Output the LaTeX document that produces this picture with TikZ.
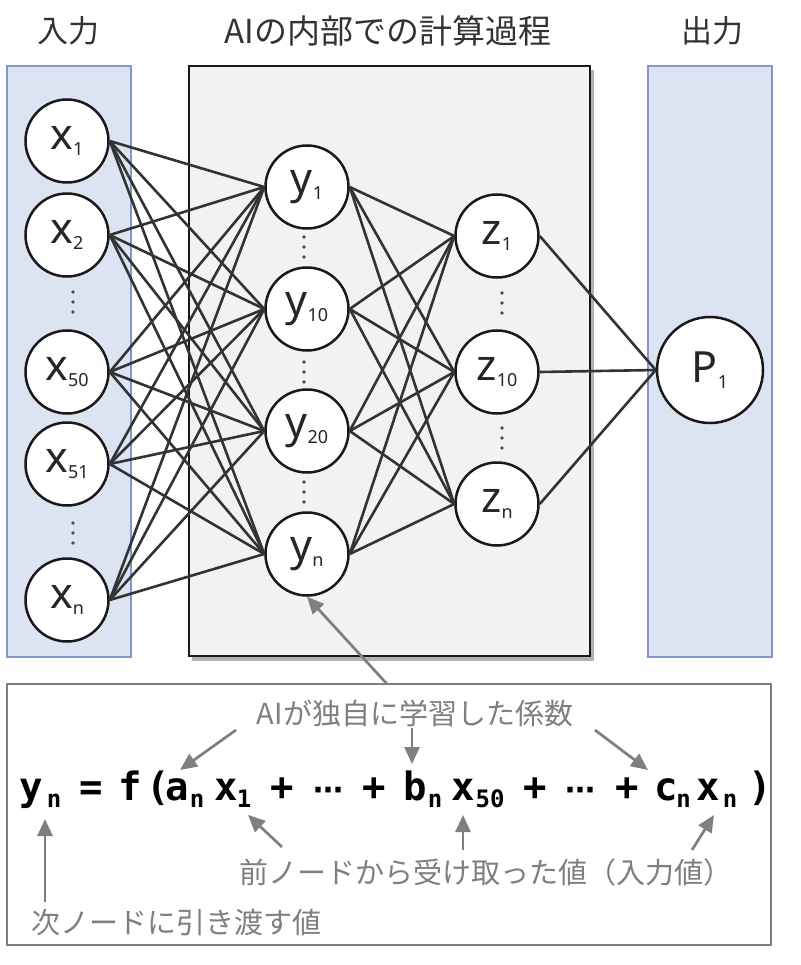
\documentclass[tikz,border=0pt]{standalone}
\usepackage{fontspec}
\setmainfont{Noto Sans CJK JP}
\newfontfamily\nodefont{Noto Sans}
\newfontfamily\formfont{DejaVu Sans Mono}
\newfontfamily\dvfont{DejaVu Sans}
\usetikzlibrary{arrows.meta}
\definecolor{boxblue}{HTML}{DCE3F2}
\definecolor{boxedge}{HTML}{7F98C8}
\definecolor{midfill}{HTML}{F2F2F2}
\definecolor{linkcol}{HTML}{333333}
\definecolor{graytxt}{HTML}{7F7F7F}
\newcommand\nsub[1]{\raisebox{-6pt}{\fontsize{18}{18}\selectfont #1}}
\tikzset{
  neuron/.style={circle, draw=black!90, line width=2.5pt, fill=white, minimum size=83pt, inner sep=0pt,
    font=\nodefont\fontsize{43}{43}\selectfont, text=black!85},
  link/.style={draw=linkcol, line width=2.6pt},
  garrow/.style={draw=graytxt, line width=2.7pt, -{Triangle[length=17pt,width=15pt]}},
  jplabel/.style={font=\fontsize{29}{29}\selectfont, text=graytxt, inner sep=0pt},
  toplabel/.style={font=\fontsize{31}{31}\selectfont, text=black!80, inner sep=0pt},
  fbig/.style={font=\formfont\bfseries\fontsize{39}{39}\selectfont, anchor=base, inner sep=0pt},
  fsub/.style={font=\formfont\bfseries\fontsize{24}{24}\selectfont, anchor=base, inner sep=0pt},
  bluebox/.style={fill=boxblue, draw=boxedge, line width=2.7pt},
}
\begin{document}
\begin{tikzpicture}[x=1pt,y=-1pt]
\useasboundingbox (0,0) rectangle (800,965);
\fill[white] (0,0) rectangle (800,965);

% top labels
\node[toplabel] (lin) at (68,31) {入力};
\node[toplabel,font=\fontsize{33}{33}\selectfont] (lmid) at (388,31) {AIの内部での計算過程};
\node[toplabel] (lout) at (712,31) {出力};

% boxes
\draw[bluebox] (7,66) rectangle (131,657);
\fill[black!30] (192,70) rectangle (594,661);
\draw[fill=midfill, draw=black!90, line width=2.6pt] (189,66) rectangle (590,656);
\draw[bluebox] (648,66) rectangle (772,657);

% neurons
\node[neuron] (x1)  at (67,141) {x\nsub{1}};
\node[neuron] (x2)  at (67,235) {x\nsub{2}};
\node[neuron] (x50) at (67,372) {x\nsub{50}};
\node[neuron] (x51) at (67,464) {x\nsub{51}};
\node[neuron] (xn)  at (67,600) {x\nsub{n}};
\node[neuron] (y1)  at (307,187) {y\nsub{1}};
\node[neuron] (y10) at (307,309) {y\nsub{10}};
\node[neuron] (y20) at (307,431) {y\nsub{20}};
\node[neuron] (yn)  at (307,554) {y\nsub{n}};
\node[neuron] (z1)  at (497,236) {z\nsub{1}};
\node[neuron] (z10) at (497,372) {z\nsub{10}};
\node[neuron] (zn)  at (497,504) {z\nsub{n}};
\node[neuron, minimum size=106pt] (P1) at (710,370) {P\nsub{1}};

% vertical dots
\foreach \px/\py in {73/302, 73/533, 304/247, 304/372, 304/492, 502/303, 502/438}{
  \foreach \d in {-10,0,10}{ \fill[black!70] (\px,\py+\d) circle (1.8pt); }
}

% links
\foreach \a in {x1,x2,x50,x51,xn}{
  \foreach \b in {y1,y10,y20,yn}{ \draw[link] (\a.east) -- (\b.west); }
}
\foreach \a in {y1,y10,y20,yn}{
  \foreach \b in {z1,z10,zn}{ \draw[link] (\a.east) -- (\b.west); }
}
\foreach \a in {z1,z10,zn}{ \draw[link] (\a.east) -- (P1.west); }

% bottom box
\draw[draw=graytxt, line width=2.8pt, fill=white] (7,684) rectangle (771,945);
\coordinate (ynt) at (387,684);
\draw[garrow] (ynt) -- (yn.south);

% labels
\node[jplabel] (coef) at (415,713) {AIが独自に学習した係数};
\node[jplabel] (prev) at (486,872) {前ノードから受け取った値（入力値）};
\node[jplabel, anchor=west] (next) at (31,922) {次ノードに引き渡す値};

% formula
\node[fbig] (fy) at (31.5,800) {y};
\node[fsub] (fyn) at (54,807) {n};
\node[fbig] (feq) at (91.5,800) {=};
\node[fbig] (ff) at (130,800) {f};
\node[fbig] (flp) at (158,800) {(};
\node[fbig] (fa) at (177.5,800) {a};
\node[fsub] (fan) at (197,807) {n};
\node[fbig] (fx1) at (226,800) {x};
\node[fsub] (fx1s) at (244,807) {1};
\node[fbig] (fp1) at (282.5,800) {+};
\node[fbig,font=\dvfont\bfseries\fontsize{30}{30}\selectfont] (fd1) at (328,800) {⋯};
\node[fbig] (fp2) at (374,800) {+};
\node[fbig] (fb) at (415,800) {b};
\node[fsub] (fbn) at (435,807) {n};
\node[fbig] (fx50) at (463,800) {x};
\node[fsub] (fx50s) at (490,807) {50};
\node[fbig] (fp3) at (535.5,800) {+};
\node[fbig,font=\dvfont\bfseries\fontsize{30}{30}\selectfont] (fd2) at (580,800) {⋯};
\node[fbig] (fp4) at (627.5,800) {+};
\node[fbig] (fc) at (666,800) {c};
\node[fsub] (fcn) at (683.5,807) {n};
\node[fbig] (fxn) at (708.5,800) {x};
\node[fsub] (fxns) at (730,807) {n};
\node[fbig] (frp) at (760.5,800) {)};

% label arrows
\coordinate (a1t) at (236,730); \coordinate (a1h) at (180,770);
\coordinate (a2t) at (412,728); \coordinate (a2h) at (412,764);
\coordinate (a3t) at (595,730); \coordinate (a3h) at (648,770);
\coordinate (b0t) at (45,902);  \coordinate (b0h) at (45,819);
\coordinate (b1t) at (282,847); \coordinate (b1h) at (248,815);
\coordinate (b2t) at (463,850); \coordinate (b2h) at (463,815);
\coordinate (b3t) at (692,850); \coordinate (b3h) at (714,815);
\draw[garrow] (a1t) -- (a1h);
\draw[garrow] (a2t) -- (a2h);
\draw[garrow] (a3t) -- (a3h);
\draw[garrow] (b0t) -- (b0h);
\draw[garrow] (b1t) -- (b1h);
\draw[garrow] (b2t) -- (b2h);
\draw[garrow] (b3t) -- (b3h);
\end{tikzpicture}
\end{document}
